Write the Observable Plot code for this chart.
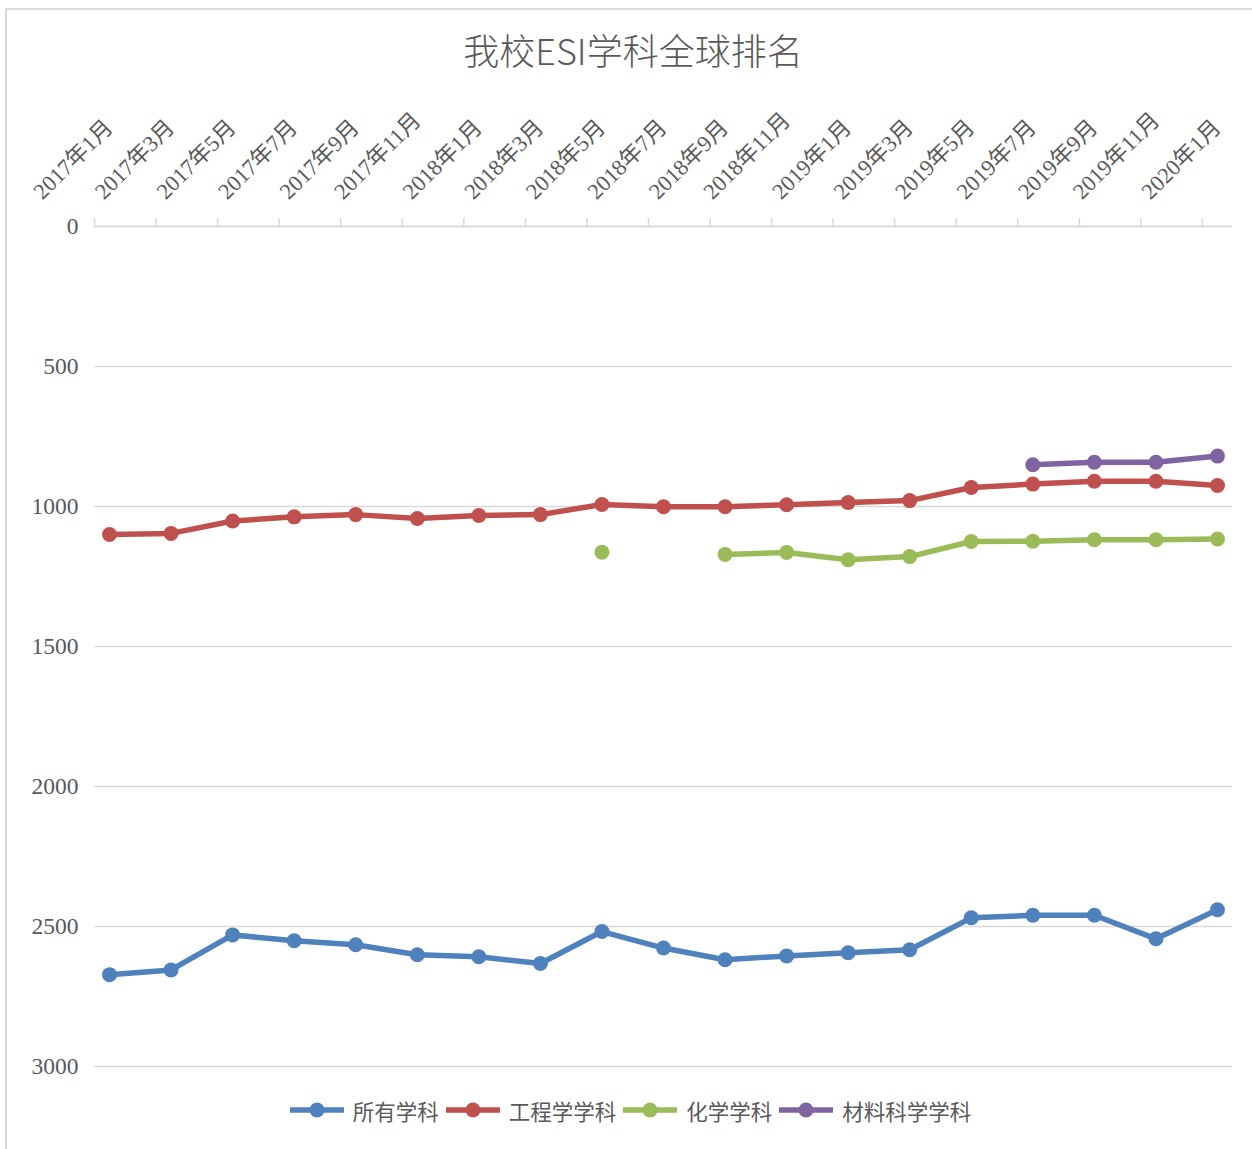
<!DOCTYPE html>
<html>
<head>
<meta charset="utf-8">
<script src="https://cdn.jsdelivr.net/npm/d3@7"></script>
<script src="https://cdn.jsdelivr.net/npm/@observablehq/plot@0.6"></script>
<style>
  html, body { margin: 0; padding: 0; background: #fff; }
  #wrap { position: relative; width: 1252px; height: 1149px; overflow: hidden; background: #fff; }
  #frame { position: absolute; left: 5px; top: 8px; width: 1400px; height: 1300px;
           border-left: 2px solid #d9d9d9; border-top: 2px solid #d9d9d9; pointer-events: none; }
  #title { height: 90px; line-height: 98px; text-align: center; padding-left: 14px; box-sizing: border-box;
           font-family: "Noto Sans CJK SC", "Noto Sans", sans-serif; font-size: 36px; font-weight: 300; color: #595959; }
  #chart svg { display: block; }
  #legend { height: 40px; display: flex; align-items: center; justify-content: center; padding-left: 14px; box-sizing: border-box;
            font-family: "Noto Sans CJK SC", sans-serif; font-size: 21.5px; color: #595959; }
  .item { display: flex; align-items: center; margin-right: 6px; }
  .item svg { margin-right: 8px; }
</style>
</head>
<body>
<div id="wrap">
  <div id="frame"></div>
  <div id="title">我校ESI学科全球排名</div>
  <div id="chart"></div>
  <div id="legend"></div>
</div>
<script>
// Categories (x axis, top)
const months = ["2017年1月","2017年3月","2017年5月","2017年7月","2017年9月","2017年11月",
                "2018年1月","2018年3月","2018年5月","2018年7月","2018年9月","2018年11月",
                "2019年1月","2019年3月","2019年5月","2019年7月","2019年9月","2019年11月",
                "2020年1月"];
// Series values (global rank)
const allSubjects = [2672, 2655, 2530, 2551, 2565, 2601, 2608, 2632, 2518, 2577, 2619, 2605, 2594, 2583, 2469, 2460, 2460, 2544, 2440];
const engineering = [1100, 1096, 1052, 1037, 1029, 1043, 1032, 1029, 993, 1001, 1001, 994, 986, 979, 932, 920, 910, 910, 925];
const chemistry   = [null, null, null, null, null, null, null, null, 1163, null, 1171, 1164, 1190, 1179, 1125, 1124, 1119, 1119, 1116];
const materials   = [null, null, null, null, null, null, null, null, null, null, null, null, null, null, null, 851, 842, 842, 820];
const seriesNames  = ["所有学科", "工程学学科", "化学学科", "材料科学学科"];
const seriesColors = ["#4f81bd", "#c0504d", "#9bbb59", "#8064a2"];
const yTicks = [0, 500, 1000, 1500, 2000, 2500, 3000];

const seriesValues = [allSubjects, engineering, chemistry, materials];
const seriesRows = seriesValues.map((vals, s) => vals.map((v, i) => ({i, v, s: seriesNames[s]})));
const labelRows = months.map((m, i) => ({i, m}));
const tickPos = months.map((m, i) => i - 0.244);

const serif = "'Liberation Serif', 'Noto Sans CJK SC', serif";
const textColor = "#595959";
const gridColor = "#d9d9d9";

const marks = [
  Plot.gridY(yTicks.filter(d => d > 0), {stroke: gridColor, strokeOpacity: 1, strokeWidth: 1.5}),
  Plot.ruleY([0], {stroke: gridColor, strokeWidth: 2}),
  Plot.axisX(tickPos, {anchor: "top", label: null, tickSize: 9, tickFormat: () => "", stroke: gridColor, strokeWidth: 1.5}),
  Plot.axisY(yTicks, {anchor: "left", label: null, tickSize: 0, tickPadding: 16, tickFormat: d => String(d),
    fontSize: 23.5, fontFamily: serif, fill: textColor}),
  Plot.text(labelRows.filter(d => d.m.length <= 7), {x: "i", text: "m", frameAnchor: "top", rotate: -45,
    textAnchor: "start", lineAnchor: "bottom", dx: -67, dy: -26, fontSize: 22.5, fontFamily: serif, fill: textColor}),
  Plot.text(labelRows.filter(d => d.m.length > 7), {x: "i", text: "m", frameAnchor: "top", rotate: -45,
    textAnchor: "start", lineAnchor: "bottom", dx: -74, dy: -26, fontSize: 22.5, fontFamily: serif, fill: textColor})
];
seriesRows.forEach((rows, s) => {
  marks.push(Plot.line(rows, {x: "i", y: "v", stroke: seriesColors[s], strokeWidth: 5.5, strokeLinejoin: "round", strokeLinecap: "butt"}));
  marks.push(Plot.dot(rows.filter(d => d.v != null), {x: "i", y: "v", r: 7.5, fill: seriesColors[s], stroke: "none"}));
});

const chart = Plot.plot({
  width: 1252,
  height: 1000,
  marginTop: 136,
  marginBottom: 24,
  marginLeft: 94,
  marginRight: 20,
  x: {type: "linear", domain: [-0.244, 18.244], axis: null, label: null},
  y: {domain: [0, 3000], reverse: true, axis: null, label: null},
  style: {background: "transparent", overflow: "visible"},
  marks
});
document.getElementById("chart").appendChild(chart);

// Legend
const legend = document.getElementById("legend");
seriesNames.forEach((name, s) => {
  const item = document.createElement("div");
  item.className = "item";
  item.innerHTML = `<svg width="56" height="20"><line x1="1" y1="10" x2="55" y2="10" stroke="${seriesColors[s]}" stroke-width="5.5"/><circle cx="28" cy="10" r="7.5" fill="${seriesColors[s]}"/></svg><span>${name}</span>`;
  legend.appendChild(item);
});
</script>
</body>
</html>
